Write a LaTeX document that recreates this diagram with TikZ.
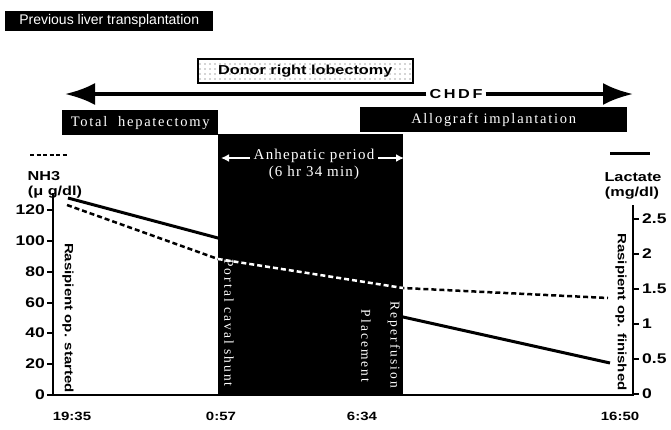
\documentclass[tikz,border=0pt]{standalone}
\usepackage{fontspec}
\setmainfont{Liberation Serif}
\setsansfont{Liberation Sans}
\newfontfamily\axisfont{Liberation Sans}[FakeStretch=1.25]
\newfontfamily\boxserif{Liberation Serif}[LetterSpace=12]
\newfontfamily\wideserif{Liberation Serif}[LetterSpace=15]
\newfontfamily\spacedserif{Liberation Serif}[LetterSpace=8]
\usetikzlibrary{arrows.meta,patterns.meta}
\begin{document}
\begin{tikzpicture}[x=1pt,y=-1pt,
  blackbox/.style={fill=black,text=white,inner sep=0pt,anchor=north west},
  axislab/.style={font=\axisfont\bfseries\fontsize{14}{14}\selectfont,inner sep=0pt},
  unitlab/.style={font=\axisfont\bfseries\fontsize{13}{14}\selectfont,inner sep=0pt},
  timelab/.style={font=\axisfont\bfseries\fontsize{12}{12}\selectfont,inner sep=0pt},
  vertlab/.style={rotate=-90,font=\axisfont\bfseries\fontsize{12}{12}\selectfont,inner sep=0pt},
  whitevert/.style={rotate=-90,text=white,font=\wideserif\fontsize{13.5}{13.5}\selectfont,inner sep=0pt},
  axisline/.style={line width=1.6pt},
  tickline/.style={line width=1.2pt},
  lactline/.style={line width=3pt},
  nhline/.style={line width=2.5pt,dash pattern=on 5pt off 3pt}
]
\path[use as bounding box] (0,0) rectangle (671,429);

% header boxes
\node[blackbox,minimum width=208pt,minimum height=20pt,font=\sffamily\fontsize{14}{14}\selectfont] (prev) at (5,11) {Previous liver transplantation};

\node[anchor=north west,draw,line width=1.5pt,preaction={fill=white},
  pattern={Dots[distance=5pt,radius=0.6pt]},pattern color=black!70,
  minimum width=215pt,minimum height=24pt,inner sep=0pt] (lobe) at (197,58) {};
\node[font=\axisfont\bfseries\fontsize{13}{13}\selectfont,inner sep=0pt] (lobetxt) at (lobe.center) {Donor right lobectomy};

% CHDF arrow
\node[fill=white,inner xsep=3pt,inner ysep=2pt,font=\axisfont\bfseries\addfontfeature{LetterSpace=20}\fontsize{13}{13}\selectfont] (chdf) at (456,94) {CHDF};
\coordinate (chdfL) at (65,94);
\coordinate (chdfR) at (633,94);
\draw[line width=4pt,-{Latex[length=30pt,width=22pt]}] (chdf.west) -- (chdfL);
\draw[line width=4pt,-{Latex[length=30pt,width=22pt]}] (chdf.east) -- (chdfR);

\node[blackbox,minimum width=156pt,minimum height=25pt,font=\boxserif\fontsize{14.5}{14.5}\selectfont] (total) at (62,110) {Total\ \ hepatectomy};
\node[blackbox,minimum width=267pt,minimum height=25pt,font=\boxserif\fontsize{14.5}{14.5}\selectfont] (allo) at (360,107) {Allograft implantation};

% anhepatic period
\node[blackbox,minimum width=185pt,minimum height=261pt] (anh) at (218,134) {};
\node[text=white,font=\spacedserif\fontsize{15}{15}\selectfont,inner sep=1pt] (ap) at (314,156) {Anhepatic period};
\node[text=white,font=\spacedserif\fontsize{15}{15}\selectfont,inner sep=1pt] (ap2) at (314,173) {(6 hr 34 min)};
\coordinate (apL) at (221,158);
\coordinate (apR) at (404,158);
\draw[white,line width=1.6pt,-{Latex[length=8pt,width=8pt]}] (ap.west) ++(-3,2) -- (apL);
\draw[white,line width=1.6pt,-{Latex[length=8pt,width=8pt]}] (ap.east) ++(3,2) -- (apR);

% axes
\coordinate (ytop) at (53,193);
\coordinate (orig) at (53,395);
\coordinate (xend) at (633,395);
\coordinate (rtop) at (633,205);
\draw[axisline] (ytop) -- (orig) -- (xend) -- (rtop);

\foreach \v/\y in {0/395,20/364,40/333,60/303,80/272,100/241,120/210}{
  \draw[tickline] (47,\y) -- (53,\y);
  \node[axislab,anchor=east] (l\v) at (45,\y) {\v};
}
\foreach \v/\y/\n in {0/394/a,0.5/359/b,1/324/c,1.5/289/d,2/254/e,2.5/219/f}{
  \draw[tickline] (633,\y) -- (639,\y);
  \node[axislab,anchor=west] (r\n) at (642,\y) {\v};
}

% legends and units
\coordinate (dashL) at (30,155);
\coordinate (dashR) at (67,155);
\draw[line width=2.5pt,dash pattern=on 4pt off 2.5pt] (dashL) -- (dashR);
\node[unitlab] (nh) at (44,176) {NH3};
\node[unitlab] (nhu) at (55,192) {(μ g/dl)};
\coordinate (solL) at (610,153);
\coordinate (solR) at (650,153);
\draw[lactline] (solL) -- (solR);
\node[unitlab] (lac) at (633,177) {Lactate};
\node[unitlab] (lacu) at (632,193) {(mg/dl)};

% data lines
\draw[lactline] (68,198) -- (218,238) -- (403,317) -- (610,363);
\draw[nhline] (67,205) -- (218,259) -- (403,288) -- (608,298);
\begin{scope}
  \clip (218,134) rectangle (403,395);
  \draw[nhline,white] (67,205) -- (218,259) -- (403,288) -- (608,298);
\end{scope}

% vertical labels
\node[vertlab] (rstart) at (68,318) {Rasipient op. started};
\node[vertlab] (rfin) at (621,312) {Rasipient op. finished};
\node[whitevert] (pcs) at (229,323) {Portal caval shunt};
\node[whitevert] (rep) at (394,345) {Reperfusion};
\node[whitevert] (plc) at (366,346) {Placement};

% time labels
\node[timelab] (t1) at (72,416) {19:35};
\node[timelab] (t2) at (221,416) {0:57};
\node[timelab] (t3) at (362,416) {6:34};
\node[timelab] (t4) at (620,416) {16:50};
\end{tikzpicture}
\end{document}
